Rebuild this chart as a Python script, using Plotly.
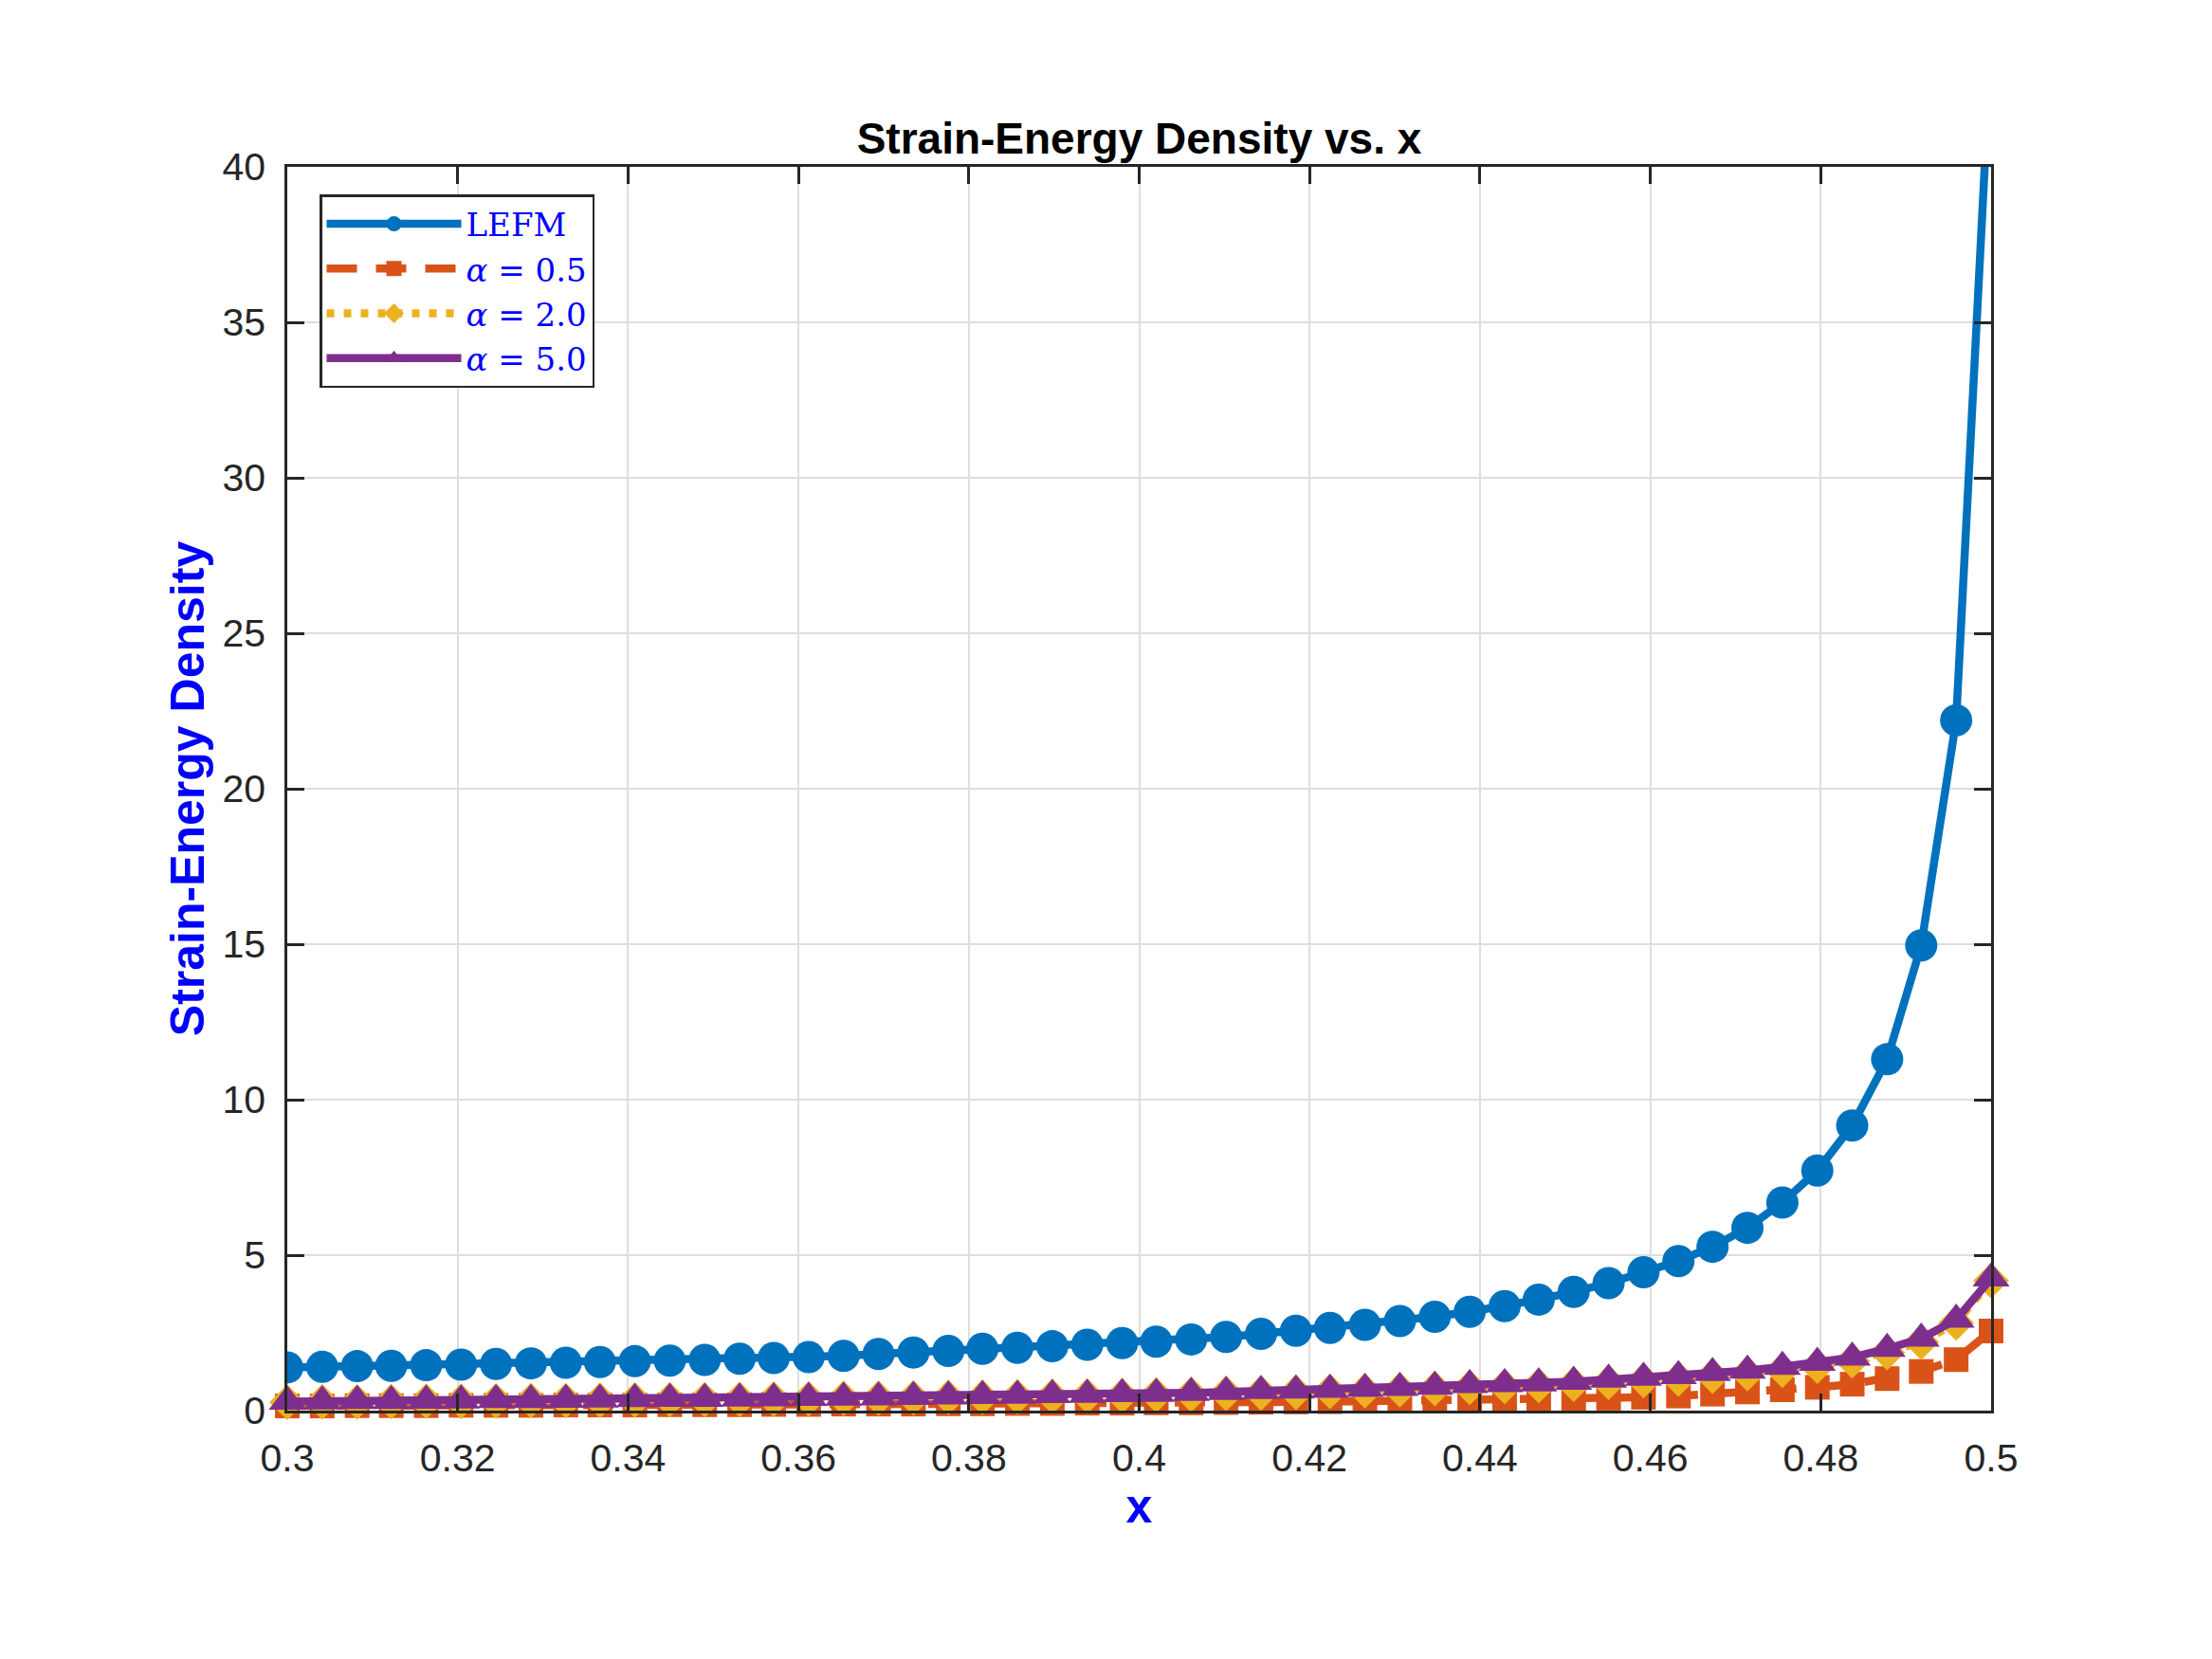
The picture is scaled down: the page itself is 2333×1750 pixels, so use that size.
import plotly.graph_objects as go

# ---------------- data ----------------
x_vals = [0.3000, 0.3041, 0.3082, 0.3122, 0.3163, 0.3204, 0.3245, 0.3286, 0.3327, 0.3367,
          0.3408, 0.3449, 0.3490, 0.3531, 0.3571, 0.3612, 0.3653, 0.3694, 0.3735, 0.3776,
          0.3816, 0.3857, 0.3898, 0.3939, 0.3980, 0.4020, 0.4061, 0.4102, 0.4143, 0.4184,
          0.4224, 0.4265, 0.4306, 0.4347, 0.4388, 0.4429, 0.4469, 0.4510, 0.4551, 0.4592,
          0.4633, 0.4673, 0.4714, 0.4755, 0.4796, 0.4837, 0.4878, 0.4918, 0.4959, 0.5000]

lefm = [1.39, 1.41, 1.43, 1.44, 1.46, 1.48, 1.50, 1.52, 1.54, 1.56,
        1.59, 1.61, 1.63, 1.67, 1.69, 1.72, 1.76, 1.82, 1.87, 1.92,
        1.99, 2.02, 2.07, 2.12, 2.17, 2.22, 2.29, 2.37, 2.47, 2.57,
        2.66, 2.76, 2.88, 3.02, 3.18, 3.36, 3.57, 3.82, 4.10, 4.45,
        4.81, 5.27, 5.88, 6.69, 7.72, 9.17, 11.30, 14.96, 22.2, 44.0]

alpha_05 = [0.15, 0.15, 0.16, 0.16, 0.16, 0.17, 0.17, 0.17, 0.18, 0.18,
            0.18, 0.19, 0.19, 0.19, 0.20, 0.20, 0.21, 0.21, 0.21, 0.22,
            0.22, 0.23, 0.23, 0.24, 0.24, 0.25, 0.25, 0.26, 0.27, 0.28,
            0.29, 0.30, 0.31, 0.32, 0.34, 0.35, 0.37, 0.38, 0.40, 0.43,
            0.47, 0.53, 0.60, 0.67, 0.75, 0.85, 1.03, 1.26, 1.64, 2.56]

alpha_20 = [0.27, 0.28, 0.28, 0.29, 0.30, 0.30, 0.31, 0.32, 0.32, 0.33,
            0.34, 0.35, 0.35, 0.36, 0.37, 0.38, 0.39, 0.40, 0.41, 0.42,
            0.43, 0.44, 0.46, 0.47, 0.48, 0.50, 0.52, 0.55, 0.57, 0.59,
            0.62, 0.64, 0.67, 0.71, 0.75, 0.78, 0.81, 0.85, 0.91, 0.97,
            1.02, 1.11, 1.19, 1.30, 1.43, 1.60, 1.87, 2.20, 2.82, 4.18]

alpha_50 = [0.29, 0.30, 0.31, 0.31, 0.32, 0.33, 0.34, 0.34, 0.35, 0.36,
            0.37, 0.38, 0.38, 0.39, 0.40, 0.41, 0.42, 0.43, 0.44, 0.46,
            0.47, 0.48, 0.50, 0.51, 0.53, 0.54, 0.57, 0.60, 0.63, 0.65,
            0.67, 0.70, 0.73, 0.77, 0.82, 0.85, 0.88, 0.93, 1.00, 1.06,
            1.11, 1.21, 1.29, 1.41, 1.54, 1.71, 1.99, 2.32, 2.93, 4.25]

series_names = ["LEFM", "<i>α</i> = 0.5", "<i>α</i> = 2.0", "<i>α</i> = 5.0"]
x_ticks = [0.3, 0.32, 0.34, 0.36, 0.38, 0.4, 0.42, 0.44, 0.46, 0.48, 0.5]
y_ticks = [0, 5, 10, 15, 20, 25, 30, 35, 40]

# ---------------- figure ----------------
# page body has an 8px default margin, so the figure is placed at (8, 8)
PAGE_OFF = 8
W, H = 2333 - 2 * PAGE_OFF, 1750 - 2 * PAGE_OFF
PLOT_L, PLOT_R, PLOT_T, PLOT_B = 303, 2100, 176, 1488   # target page pixels
L = PLOT_L - PAGE_OFF
T = PLOT_T - PAGE_OFF
R = (W + PAGE_OFF) - PLOT_R
B = (H + PAGE_OFF) - PLOT_B

fig = go.Figure()

fig.add_trace(go.Scatter(
    x=x_vals, y=lefm, name=series_names[0], mode="lines+markers",
    line=dict(color="#0072BD", width=8.5),
    marker=dict(symbol="circle", size=34, color="#0072BD", line=dict(width=0)),
    cliponaxis=True))
fig.add_trace(go.Scatter(
    x=x_vals, y=alpha_05, name=series_names[1], mode="lines+markers",
    line=dict(color="#D95319", width=8.5, dash="32px,20px"),
    marker=dict(symbol="square", size=26, color="#D95319", line=dict(width=0)),
    cliponaxis=False))
fig.add_trace(go.Scatter(
    x=x_vals, y=alpha_20, name=series_names[2], mode="lines+markers",
    line=dict(color="#EDB120", width=8.5, dash="8px,10px"),
    marker=dict(symbol="diamond", size=29, color="#EDB120", line=dict(width=0)),
    cliponaxis=False))
fig.add_trace(go.Scatter(
    x=x_vals, y=alpha_50, name=series_names[3], mode="lines+markers",
    line=dict(color="#7E2F8E", width=8.5),
    marker=dict(symbol="triangle-up", size=34, color="#7E2F8E", line=dict(width=0)),
    cliponaxis=False))

axis_common = dict(
    showline=True, linecolor="#262626", linewidth=2.5, mirror="ticks",
    ticks="inside", ticklen=18, tickwidth=2.5, tickcolor="#262626",
    showgrid=True, gridcolor="#dedede", gridwidth=2,
    zeroline=False,
    tickfont=dict(family="Liberation Sans, Arial, Helvetica", size=41, color="#262626"),
)

fig.update_xaxes(
    range=[0.3, 0.5], tickmode="array", tickvals=x_ticks,
    ticktext=[f"{v:g}" for v in x_ticks],
    ticklabelstandoff=12,
    title=dict(text="<b>x</b>", standoff=12,
               font=dict(family="Liberation Sans, Arial", size=50, color="#0000FF")),
    **axis_common)
fig.update_yaxes(
    range=[0, 40], tickmode="array", tickvals=y_ticks,
    ticktext=[str(v) for v in y_ticks],
    ticklabelstandoff=12,
    title=dict(text="<b>Strain-Energy Density</b>", standoff=3,
               font=dict(family="Liberation Sans, Arial", size=50, color="#0000FF")),
    **axis_common)

fig.update_layout(
    width=W, height=H, autosize=False,
    margin=dict(l=L, r=R, t=T, b=B, autoexpand=False),
    paper_bgcolor="white", plot_bgcolor="white",
    title=dict(text="<b>Strain-Energy Density vs. x</b>",
               x=(L + (W - R)) / 2 / W, xanchor="center",
               y=1 - (146 - PAGE_OFF) / H, yanchor="middle",
               font=dict(family="Liberation Sans, Arial", size=46, color="black")),
    legend=dict(
        x=(337 - PLOT_L) / (PLOT_R - PLOT_L), y=1 - (205 - PLOT_T) / (PLOT_B - PLOT_T),
        xanchor="left", yanchor="top",
        bgcolor="white", bordercolor="#262626", borderwidth=2.5,
        font=dict(family="DejaVu Serif, Liberation Serif, serif", size=34, color="#0000FF"),
        itemwidth=142, tracegroupgap=0,
    ),
    showlegend=True,
)

fig.write_html("out.html")
